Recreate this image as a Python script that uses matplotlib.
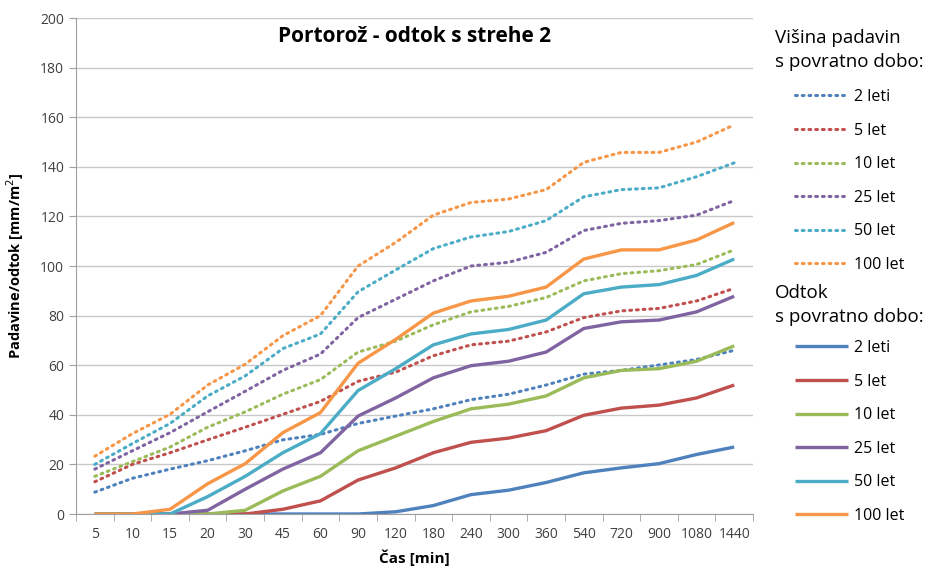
import matplotlib
matplotlib.use("Agg")
import matplotlib.pyplot as plt
import numpy as np

plt.rcParams['font.family'] = ['Open Sans', 'DejaVu Sans']

# time steps [min]
cas = ['5', '10', '15', '20', '30', '45', '60', '90', '120', '180', '240',
       '300', '360', '540', '720', '900', '1080', '1440']
povratne_dobe = ['2 leti', '5 let', '10 let', '25 let', '50 let', '100 let']

# precipitation height (dotted)
pad_2 = [8.8, 14.4, 18.1, 21.5, 25.5, 29.9, 32.1, 36.5, 39.5, 42.4, 46.1, 48.3, 52.0, 56.4, 57.9, 60.1, 62.3, 66.0]
pad_5 = [13.0, 20.0, 24.7, 29.9, 35.0, 40.2, 45.4, 53.5, 57.2, 63.8, 68.2, 69.7, 73.4, 79.2, 81.9, 82.9, 85.9, 91.0]
pad_10 = [15.2, 21.1, 27.0, 35.0, 41.2, 48.3, 54.2, 65.3, 69.7, 76.3, 81.5, 83.7, 87.3, 94.0, 96.9, 98.1, 100.6, 106.5]
pad_25 = [18.1, 25.5, 32.8, 41.2, 49.5, 57.9, 64.5, 79.2, 86.6, 94.0, 100.0, 101.5, 105.5, 114.3, 117.2, 118.3, 120.5, 126.4]
pad_50 = [20.0, 28.4, 36.5, 47.6, 55.7, 66.7, 72.6, 89.6, 98.4, 107.0, 111.7, 113.9, 118.3, 127.9, 130.8, 131.5, 136.0, 141.6]
pad_100 = [23.3, 32.4, 40.2, 52.0, 60.4, 71.9, 80.0, 100.0, 109.5, 120.5, 125.6, 127.0, 130.8, 141.8, 145.8, 145.8, 150.0, 156.9]

# runoff (solid)
odt_2 = [0, 0, 0, 0, 0, 0, 0, 0, 0.9, 3.4, 7.8, 9.6, 12.7, 16.6, 18.6, 20.3, 24.0, 27.0]
odt_5 = [0, 0, 0, 0, 0, 1.9, 5.3, 13.7, 18.6, 24.7, 28.9, 30.6, 33.6, 39.8, 42.7, 43.9, 46.8, 52.0]
odt_10 = [0, 0, 0, 0, 1.5, 9.3, 15.2, 25.5, 31.4, 37.3, 42.4, 44.3, 47.6, 54.9, 57.9, 58.6, 61.6, 67.8]
odt_25 = [0, 0, 0, 1.5, 10.0, 18.1, 24.7, 39.5, 46.8, 54.9, 59.8, 61.6, 65.3, 74.8, 77.5, 78.2, 81.5, 87.8]
odt_50 = [0, 0, 0, 7.0, 15.2, 24.7, 32.4, 49.8, 58.6, 68.2, 72.6, 74.4, 78.2, 88.8, 91.5, 92.5, 96.2, 102.8]
odt_100 = [0, 0, 1.9, 12.2, 20.3, 32.8, 40.9, 60.8, 70.4, 81.0, 85.9, 87.8, 91.5, 102.8, 106.5, 106.5, 110.5, 117.5]

barve = ['#4F81BD', '#C0504D', '#9BBB59', '#8064A2', '#4BACC6', '#F79646']

padavine = [pad_2, pad_5, pad_10, pad_25, pad_50, pad_100]
odtoki = [odt_2, odt_5, odt_10, odt_25, odt_50, odt_100]

fig = plt.figure(figsize=(9.38, 5.69), dpi=100)
ax = fig.add_axes([76 / 938, 1 - 514 / 569, (753 - 76) / 938, (514 - 18) / 569])

x = np.arange(len(cas))
dot_lines = []
for vals, c in zip(padavine, barve):
    l, = ax.plot(x, vals, color=c, linewidth=2.2, linestyle=(0, (0.6, 1.6)),
                 dash_capstyle='round')
    dot_lines.append(l)
solid_lines = []
for vals, c in zip(odtoki, barve):
    l, = ax.plot(x, vals, color=c, linewidth=2.4, solid_capstyle='butt')
    solid_lines.append(l)

ax.set_xlim(-0.5, len(cas) - 0.5)
ax.set_ylim(0, 200)
ax.set_yticks(np.arange(0, 201, 20))
ax.set_xticks(x)
ax.set_xticklabels(cas)
ax.set_xticks(np.arange(-0.5, len(cas), 1), minor=True)
ax.tick_params(axis='x', which='major', length=0, pad=9, labelsize=10, colors='#404040')
ax.tick_params(axis='x', which='minor', length=5, color='#A0A0A0')
ax.tick_params(axis='y', length=5, color='#A0A0A0', labelsize=10, labelcolor='#404040')
ax.grid(axis='y', color='#C8C8C8', linewidth=1)
ax.set_axisbelow(True)
for s in ['top', 'right']:
    ax.spines[s].set_visible(False)
for s in ['left', 'bottom']:
    ax.spines[s].set_color('#A0A0A0')

ax.set_xlabel('Čas [min]', fontsize=11, fontweight='bold', labelpad=6)
ax.set_ylabel('Padavine/odtok [mm/m$^2$]', fontsize=10.5, fontweight='bold', labelpad=10)
ax.set_title('Portorož - odtok s strehe 2', fontsize=15, fontweight='bold', y=0.935)

# legends
fig.text(775 / 938, 1 - 50 / 569, 'Višina padavin\ns povratno dobo:', fontsize=13.5,
         va='center', ha='left', linespacing=1.45)
fig.legend(dot_lines, povratne_dobe, loc='upper left', frameon=False,
           bbox_to_anchor=(795 / 938, 1 - 89 / 569), fontsize=11.5,
           handlelength=3.3, handletextpad=0.4, labelspacing=1.1, borderpad=0,
           borderaxespad=0)
fig.text(775 / 938, 1 - 305 / 569, 'Odtok\ns povratno dobo:', fontsize=13.5,
         va='center', ha='left', linespacing=1.45)
fig.legend(solid_lines, povratne_dobe, loc='upper left', frameon=False,
           bbox_to_anchor=(795 / 938, 1 - 340 / 569), fontsize=11.5,
           handlelength=3.3, handletextpad=0.4, labelspacing=1.1, borderpad=0,
           borderaxespad=0)

fig.savefig('out.png', dpi=100)
